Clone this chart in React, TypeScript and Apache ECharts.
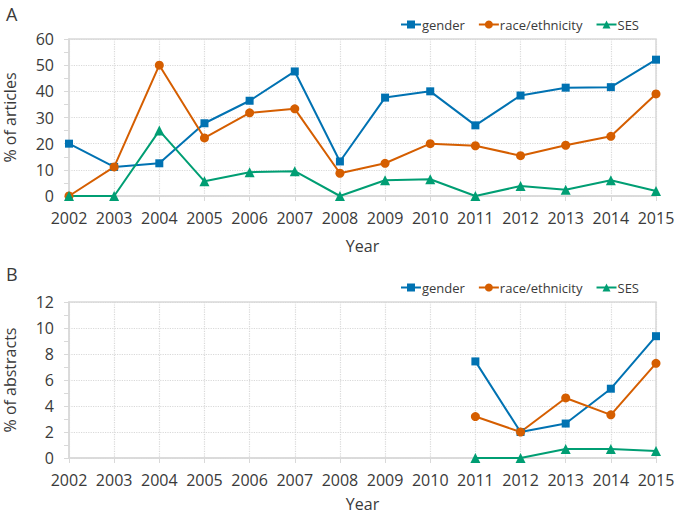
import React, { useEffect, useRef } from "react";
import * as echarts from "echarts";

const years = ["2002","2003","2004","2005","2006","2007","2008","2009","2010","2011","2012","2013","2014","2015"];
const seriesNames = ["gender", "race/ethnicity", "SES"];

const articlesGender = [20, 11.1, 12.5, 27.8, 36.4, 47.6, 13.2, 37.6, 40.0, 27.0, 38.4, 41.4, 41.6, 52.1];
const articlesRace = [0, 11.1, 50, 22.2, 31.8, 33.3, 8.7, 12.5, 20.0, 19.2, 15.4, 19.4, 22.8, 39.0];
const articlesSES = [0, 0, 25, 5.6, 9.1, 9.5, 0, 6.0, 6.4, 0, 3.8, 2.4, 6.0, 1.9];

const abstractsGender = [null, null, null, null, null, null, null, null, null, 7.43, 2.0, 2.65, 5.33, 9.37];
const abstractsRace = [null, null, null, null, null, null, null, null, null, 3.19, 2.0, 4.62, 3.32, 7.28];
const abstractsSES = [null, null, null, null, null, null, null, null, null, 0, 0, 0.69, 0.69, 0.54];

const colors = ["#0072B2", "#D55E00", "#009E73"];
const symbols = ["rect", "circle", "triangle"];
const symbolSizes = [8, 9, 10];

const FONT = "'Open Sans', 'Noto Sans', sans-serif";
const TEXT = "#3a3a3a";
const GRIDC = "#d9d9d9";

export default function App() {
  const ref = useRef<HTMLDivElement>(null);
  useEffect(() => {
    if (!ref.current) return;
    const chart = echarts.init(ref.current, undefined, { renderer: "svg" });

    const xAxisBase = (gridIndex: number, nameGap: number) => ({
      type: "category",
      gridIndex,
      data: years,
      boundaryGap: false,
      name: "Year",
      nameLocation: "middle",
      nameGap,
      nameTextStyle: { fontFamily: FONT, fontSize: 16, color: TEXT },
      axisLine: { lineStyle: { color: GRIDC, width: 1.5 } },
      axisTick: { show: true, length: 5, lineStyle: { color: GRIDC } },
      axisLabel: { fontFamily: FONT, fontSize: 16, color: TEXT, margin: 14, interval: 0 },
      splitLine: { show: true, interval: 0, lineStyle: { color: GRIDC, type: "dotted", width: 1.2 } },
    });

    const yAxisBase = (gridIndex: number, max: number, interval: number, name: string) => ({
      type: "value",
      gridIndex,
      min: 0,
      max,
      interval,
      name,
      nameLocation: "middle",
      nameGap: 51,
      nameTextStyle: { fontFamily: FONT, fontSize: 16, color: TEXT },
      axisLine: { show: true, lineStyle: { color: GRIDC, width: 1.5 } },
      axisTick: { show: true, length: 5, lineStyle: { color: GRIDC } },
      minorTick: { show: true, splitNumber: 2, length: 5, lineStyle: { color: GRIDC } },
      axisLabel: { fontFamily: FONT, fontSize: 16, color: TEXT, margin: 15 },
      splitLine: { show: true, lineStyle: { color: GRIDC, type: "dotted", width: 1.2 } },
    });

    const mkSeries = (data: (number | null)[], i: number, axisIndex: number) => ({
      type: "line",
      name: seriesNames[i],
      xAxisIndex: axisIndex,
      yAxisIndex: axisIndex,
      data,
      symbol: symbols[i],
      symbolSize: symbolSizes[i],
      showAllSymbol: true,
      lineStyle: { color: colors[i], width: 2 },
      itemStyle: { color: colors[i] },
      connectNulls: false,
    });

    const legendBase = (top: number) => ({
      top,
      right: 31,
      itemWidth: 20,
      itemHeight: 10,
      itemGap: 13,
      data: seriesNames,
      textStyle: { fontFamily: FONT, fontSize: 13, color: TEXT, padding: [0, 0, 0, -4] },
    });

    chart.setOption({
      animation: false,
      backgroundColor: "#ffffff",
      title: [
        { text: "A", left: 1, top: 0, textStyle: { fontFamily: FONT, fontSize: 18, fontWeight: "normal", color: TEXT } },
        { text: "B", left: 1, top: 260, textStyle: { fontFamily: FONT, fontSize: 18, fontWeight: "normal", color: TEXT } },
      ],
      legend: [legendBase(13), legendBase(276)],
      grid: [
        { left: 69, right: 19, top: 39, height: 157, show: true, borderColor: GRIDC, borderWidth: 1.5, outerBoundsMode: "none", containLabel: false },
        { left: 69, right: 19, top: 302, height: 156, show: true, borderColor: GRIDC, borderWidth: 1.5, outerBoundsMode: "none", containLabel: false },
      ],
      xAxis: [xAxisBase(0, 42), xAxisBase(1, 38)],
      yAxis: [yAxisBase(0, 60, 10, "% of articles"), yAxisBase(1, 12, 2, "% of abstracts")],
      series: [
        mkSeries(articlesGender, 0, 0),
        mkSeries(articlesRace, 1, 0),
        mkSeries(articlesSES, 2, 0),
        mkSeries(abstractsGender, 0, 1),
        mkSeries(abstractsRace, 1, 1),
        mkSeries(abstractsSES, 2, 1),
      ],
    });
    return () => chart.dispose();
  }, []);
  return <div ref={ref} style={{ position: "fixed", left: 0, top: 0, width: 675, height: 516 }} />;
}
